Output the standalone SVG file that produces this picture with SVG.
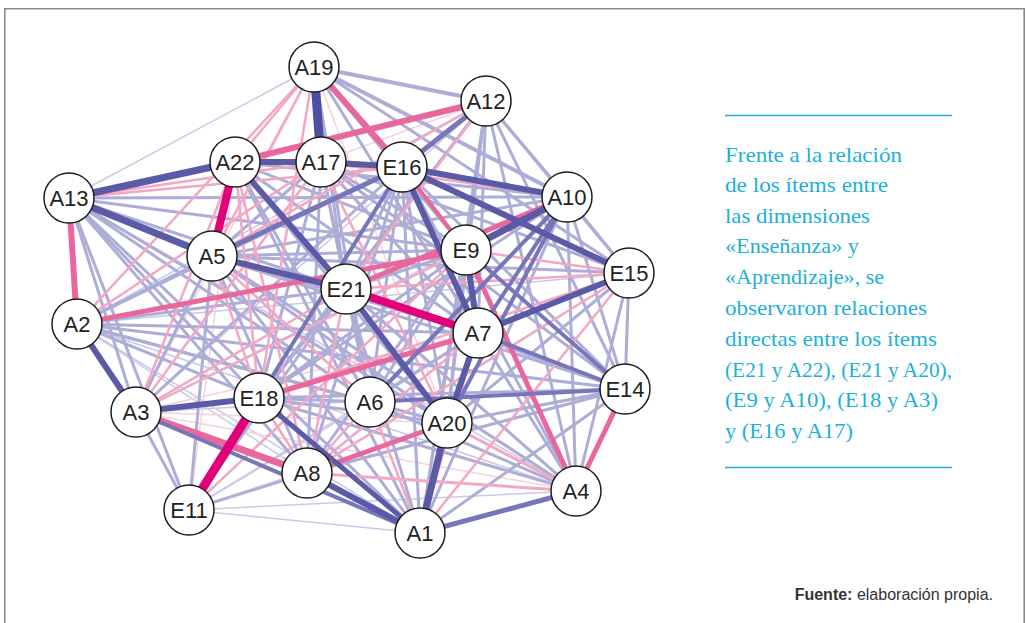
<svg xmlns="http://www.w3.org/2000/svg" width="1026" height="623" viewBox="0 0 1026 623">
<style>
.frame{stroke:#8a8a8a;stroke-width:1.6;fill:none}
line{stroke-linecap:butt}
.c1{stroke:#5a5aa7}
.c2{stroke:#7776ba;stroke-width:4}
.c3{stroke:#aeadd7;stroke-width:3}
.c4{stroke:#c9c9e7;stroke-width:1.5}
.p0{stroke:#e2007a;stroke-width:8}
.p1{stroke:#e8679d;stroke-width:5}
.p2{stroke:#f2a8c3;stroke-width:2.5}
.p3{stroke:#f7d0de;stroke-width:1.5}
.node circle{fill:#fff;stroke:#1e1e1e;stroke-width:1.5}
.node text{font-family:"Liberation Sans",Arial,sans-serif;font-size:22px;fill:#222;text-anchor:middle}
.note{font-family:"Liberation Serif","Times New Roman",serif;font-size:21px;fill:#1cb0d8}
.rule{stroke:#1cb0d8;stroke-width:1.5}
.src{font-family:"Liberation Sans",Arial,sans-serif;font-size:16px;fill:#333}
</style>
<rect width="1026" height="623" fill="#fff"/>
<path class="frame" d="M4.8,623 V8.8 H1024.2 V623"/>
<g id="connectors">
<g class="c4">
<line x1="69" y1="198" x2="314" y2="67"/>
<line x1="189" y1="510" x2="420" y2="533"/>
<line x1="69" y1="198" x2="346" y2="289"/>
<line x1="136" y1="412" x2="567" y2="197"/>
<line x1="136" y1="412" x2="486" y2="101"/>
<line x1="77" y1="324" x2="486" y2="101"/>
<line x1="77" y1="324" x2="629" y2="273"/>
<line x1="77" y1="324" x2="307" y2="473"/>
<line x1="77" y1="324" x2="576" y2="491"/>
<line x1="420" y1="533" x2="77" y2="324"/>
<line x1="189" y1="510" x2="478" y2="333"/>
<line x1="189" y1="510" x2="370" y2="402"/>
<line x1="189" y1="510" x2="402" y2="167"/>
<line x1="625" y1="389" x2="136" y2="412"/>
<line x1="576" y1="491" x2="189" y2="510"/>
<line x1="576" y1="491" x2="69" y2="198"/>
</g>
<g class="p3">
<line x1="314" y1="67" x2="136" y2="412"/>
<line x1="314" y1="67" x2="447" y2="423"/>
<line x1="69" y1="198" x2="486" y2="101"/>
<line x1="235" y1="162" x2="189" y2="510"/>
<line x1="189" y1="510" x2="447" y2="423"/>
<line x1="136" y1="412" x2="447" y2="423"/>
<line x1="136" y1="412" x2="478" y2="333"/>
<line x1="576" y1="491" x2="136" y2="412"/>
<line x1="321" y1="162" x2="486" y2="101"/>
</g>
<g class="c3">
<line x1="314" y1="67" x2="486" y2="101" stroke-width="4"/>
<line x1="314" y1="67" x2="567" y2="197" stroke-width="4"/>
<line x1="486" y1="101" x2="567" y2="197"/>
<line x1="486" y1="101" x2="629" y2="273"/>
<line x1="486" y1="101" x2="466" y2="250"/>
<line x1="486" y1="101" x2="478" y2="333"/>
<line x1="486" y1="101" x2="447" y2="423"/>
<line x1="486" y1="101" x2="576" y2="491"/>
<line x1="486" y1="101" x2="625" y2="389"/>
<line x1="486" y1="101" x2="420" y2="533" stroke-width="2"/>
<line x1="567" y1="197" x2="629" y2="273"/>
<line x1="567" y1="197" x2="625" y2="389"/>
<line x1="567" y1="197" x2="576" y2="491"/>
<line x1="567" y1="197" x2="420" y2="533"/>
<line x1="69" y1="198" x2="567" y2="197"/>
<line x1="69" y1="198" x2="466" y2="250"/>
<line x1="69" y1="198" x2="478" y2="333"/>
<line x1="69" y1="198" x2="370" y2="402"/>
<line x1="69" y1="198" x2="447" y2="423"/>
<line x1="69" y1="198" x2="259" y2="398"/>
<line x1="69" y1="198" x2="307" y2="473"/>
<line x1="69" y1="198" x2="189" y2="510"/>
<line x1="69" y1="198" x2="136" y2="412"/>
<line x1="69" y1="198" x2="420" y2="533"/>
<line x1="629" y1="273" x2="625" y2="389"/>
<line x1="629" y1="273" x2="576" y2="491"/>
<line x1="629" y1="273" x2="447" y2="423"/>
<line x1="625" y1="389" x2="447" y2="423"/>
<line x1="625" y1="389" x2="420" y2="533"/>
<line x1="625" y1="389" x2="307" y2="473"/>
<line x1="625" y1="389" x2="259" y2="398"/>
<line x1="576" y1="491" x2="402" y2="167"/>
<line x1="576" y1="491" x2="212" y2="256"/>
<line x1="576" y1="491" x2="259" y2="398"/>
<line x1="576" y1="491" x2="370" y2="402"/>
<line x1="576" y1="491" x2="346" y2="289"/>
<line x1="576" y1="491" x2="478" y2="333"/>
<line x1="420" y1="533" x2="346" y2="289"/>
<line x1="420" y1="533" x2="212" y2="256"/>
<line x1="235" y1="162" x2="420" y2="533"/>
<line x1="447" y1="423" x2="77" y2="324"/>
<line x1="447" y1="423" x2="212" y2="256"/>
<line x1="447" y1="423" x2="259" y2="398"/>
<line x1="307" y1="473" x2="466" y2="250"/>
<line x1="307" y1="473" x2="212" y2="256"/>
<line x1="307" y1="473" x2="189" y2="510"/>
<line x1="307" y1="473" x2="402" y2="167"/>
<line x1="259" y1="398" x2="77" y2="324"/>
<line x1="259" y1="398" x2="466" y2="250"/>
<line x1="259" y1="398" x2="486" y2="101"/>
<line x1="259" y1="398" x2="567" y2="197"/>
<line x1="259" y1="398" x2="370" y2="402"/>
<line x1="189" y1="510" x2="136" y2="412"/>
<line x1="189" y1="510" x2="212" y2="256"/>
<line x1="189" y1="510" x2="346" y2="289"/>
<line x1="136" y1="412" x2="212" y2="256"/>
<line x1="136" y1="412" x2="402" y2="167"/>
<line x1="77" y1="324" x2="212" y2="256"/>
<line x1="77" y1="324" x2="402" y2="167"/>
<line x1="77" y1="324" x2="478" y2="333"/>
<line x1="77" y1="324" x2="346" y2="289"/>
<line x1="77" y1="324" x2="370" y2="402"/>
<line x1="77" y1="324" x2="625" y2="389"/>
<line x1="212" y1="256" x2="567" y2="197"/>
<line x1="212" y1="256" x2="466" y2="250"/>
<line x1="212" y1="256" x2="478" y2="333"/>
<line x1="212" y1="256" x2="625" y2="389"/>
<line x1="212" y1="256" x2="321" y2="162"/>
<line x1="212" y1="256" x2="629" y2="273"/>
<line x1="235" y1="162" x2="567" y2="197"/>
<line x1="235" y1="162" x2="466" y2="250"/>
<line x1="235" y1="162" x2="478" y2="333"/>
<line x1="235" y1="162" x2="370" y2="402"/>
<line x1="235" y1="162" x2="447" y2="423"/>
<line x1="321" y1="162" x2="346" y2="289"/>
<line x1="321" y1="162" x2="466" y2="250"/>
<line x1="321" y1="162" x2="478" y2="333"/>
<line x1="321" y1="162" x2="629" y2="273"/>
<line x1="321" y1="162" x2="370" y2="402"/>
<line x1="321" y1="162" x2="307" y2="473"/>
<line x1="321" y1="162" x2="259" y2="398"/>
<line x1="321" y1="162" x2="625" y2="389"/>
<line x1="314" y1="67" x2="346" y2="289"/>
<line x1="314" y1="67" x2="466" y2="250"/>
<line x1="314" y1="67" x2="478" y2="333"/>
<line x1="314" y1="67" x2="370" y2="402"/>
<line x1="314" y1="67" x2="629" y2="273"/>
<line x1="402" y1="167" x2="625" y2="389"/>
<line x1="402" y1="167" x2="447" y2="423"/>
<line x1="402" y1="167" x2="370" y2="402"/>
<line x1="402" y1="167" x2="346" y2="289"/>
<line x1="402" y1="167" x2="420" y2="533"/>
<line x1="466" y1="250" x2="370" y2="402"/>
<line x1="466" y1="250" x2="447" y2="423"/>
<line x1="466" y1="250" x2="346" y2="289"/>
<line x1="466" y1="250" x2="420" y2="533"/>
<line x1="346" y1="289" x2="625" y2="389"/>
<line x1="346" y1="289" x2="370" y2="402"/>
<line x1="346" y1="289" x2="259" y2="398"/>
<line x1="478" y1="333" x2="370" y2="402"/>
</g>
<g class="p2">
<line x1="77" y1="324" x2="321" y2="162"/>
<line x1="77" y1="324" x2="314" y2="67"/>
<line x1="235" y1="162" x2="314" y2="67"/>
<line x1="235" y1="162" x2="402" y2="167"/>
<line x1="235" y1="162" x2="307" y2="473"/>
<line x1="235" y1="162" x2="259" y2="398"/>
<line x1="235" y1="162" x2="136" y2="412"/>
<line x1="314" y1="67" x2="212" y2="256"/>
<line x1="314" y1="67" x2="259" y2="398"/>
<line x1="69" y1="198" x2="402" y2="167"/>
<line x1="69" y1="198" x2="321" y2="162"/>
<line x1="212" y1="256" x2="486" y2="101"/>
<line x1="212" y1="256" x2="370" y2="402"/>
<line x1="212" y1="256" x2="259" y2="398"/>
<line x1="321" y1="162" x2="567" y2="197"/>
<line x1="321" y1="162" x2="447" y2="423"/>
<line x1="321" y1="162" x2="136" y2="412"/>
<line x1="307" y1="473" x2="259" y2="398"/>
<line x1="307" y1="473" x2="478" y2="333"/>
<line x1="307" y1="473" x2="346" y2="289"/>
<line x1="307" y1="473" x2="576" y2="491" stroke-width="3"/>
<line x1="447" y1="423" x2="576" y2="491" stroke-width="3"/>
<line x1="370" y1="402" x2="420" y2="533"/>
<line x1="370" y1="402" x2="307" y2="473"/>
<line x1="420" y1="533" x2="478" y2="333"/>
<line x1="420" y1="533" x2="629" y2="273"/>
<line x1="629" y1="273" x2="259" y2="398"/>
<line x1="629" y1="273" x2="307" y2="473"/>
<line x1="466" y1="250" x2="629" y2="273"/>
<line x1="346" y1="289" x2="629" y2="273"/>
<line x1="346" y1="289" x2="136" y2="412"/>
<line x1="346" y1="289" x2="486" y2="101"/>
<line x1="189" y1="510" x2="466" y2="250"/>
<line x1="136" y1="412" x2="466" y2="250"/>
</g>
<g class="p1">
<line x1="314" y1="67" x2="402" y2="167" stroke-width="6"/>
<line x1="235" y1="162" x2="486" y2="101" stroke-width="6"/>
<line x1="69" y1="198" x2="77" y2="324" stroke-width="6"/>
<line x1="77" y1="324" x2="466" y2="250"/>
<line x1="346" y1="289" x2="567" y2="197"/>
<line x1="136" y1="412" x2="307" y2="473" stroke-width="7"/>
<line x1="307" y1="473" x2="447" y2="423"/>
<line x1="466" y1="250" x2="576" y2="491"/>
<line x1="625" y1="389" x2="576" y2="491"/>
<line x1="259" y1="398" x2="478" y2="333"/>
<line x1="402" y1="167" x2="466" y2="250" stroke-width="4"/>
</g>
<g class="c2">
<line x1="486" y1="101" x2="402" y2="167" stroke-width="5"/>
<line x1="212" y1="256" x2="402" y2="167" stroke-width="5"/>
<line x1="420" y1="533" x2="576" y2="491" stroke-width="5"/>
<line x1="370" y1="402" x2="567" y2="197"/>
<line x1="136" y1="412" x2="420" y2="533"/>
<line x1="466" y1="250" x2="625" y2="389"/>
<line x1="478" y1="333" x2="625" y2="389"/>
<line x1="370" y1="402" x2="625" y2="389"/>
<line x1="567" y1="197" x2="447" y2="423"/>
<line x1="259" y1="398" x2="402" y2="167"/>
<line x1="567" y1="197" x2="478" y2="333"/>
</g>
<g class="c1">
<line x1="314" y1="67" x2="321" y2="162" stroke-width="9" stroke="#4d50a2"/>
<line x1="235" y1="162" x2="69" y2="198" stroke-width="7"/>
<line x1="69" y1="198" x2="212" y2="256" stroke-width="7"/>
<line x1="235" y1="162" x2="346" y2="289" stroke-width="6"/>
<line x1="212" y1="256" x2="346" y2="289" stroke-width="6"/>
<line x1="235" y1="162" x2="321" y2="162" stroke-width="6"/>
<line x1="321" y1="162" x2="402" y2="167" stroke-width="6"/>
<line x1="402" y1="167" x2="567" y2="197" stroke-width="6"/>
<line x1="402" y1="167" x2="629" y2="273" stroke-width="6"/>
<line x1="402" y1="167" x2="478" y2="333" stroke-width="6"/>
<line x1="466" y1="250" x2="478" y2="333" stroke-width="6"/>
<line x1="567" y1="197" x2="466" y2="250" stroke-width="7"/>
<line x1="629" y1="273" x2="478" y2="333" stroke-width="6"/>
<line x1="478" y1="333" x2="447" y2="423" stroke-width="6"/>
<line x1="447" y1="423" x2="420" y2="533" stroke-width="7"/>
<line x1="346" y1="289" x2="447" y2="423" stroke-width="6"/>
<line x1="77" y1="324" x2="136" y2="412" stroke-width="6"/>
<line x1="136" y1="412" x2="259" y2="398" stroke-width="6"/>
<line x1="259" y1="398" x2="420" y2="533" stroke-width="5"/>
<line x1="307" y1="473" x2="420" y2="533" stroke-width="6"/>
</g>
<g class="p0">
<line x1="235" y1="162" x2="212" y2="256"/>
<line x1="346" y1="289" x2="478" y2="333"/>
<line x1="259" y1="398" x2="189" y2="510" stroke-width="9"/>
</g>
</g>
<g id="A19" class="node"><circle cx="314" cy="67" r="25"/><text x="314" y="75">A19</text></g>
<g id="A12" class="node"><circle cx="486" cy="101" r="25"/><text x="486" y="109">A12</text></g>
<g id="A22" class="node"><circle cx="235" cy="162" r="25"/><text x="235" y="170">A22</text></g>
<g id="A17" class="node"><circle cx="321" cy="162" r="25"/><text x="321" y="170">A17</text></g>
<g id="E16" class="node"><circle cx="402" cy="167" r="25"/><text x="402" y="175">E16</text></g>
<g id="A13" class="node"><circle cx="69" cy="198" r="25"/><text x="69" y="206">A13</text></g>
<g id="A10" class="node"><circle cx="567" cy="197" r="25"/><text x="567" y="205">A10</text></g>
<g id="E9" class="node"><circle cx="466" cy="250" r="25"/><text x="466" y="258">E9</text></g>
<g id="A5" class="node"><circle cx="212" cy="256" r="25"/><text x="212" y="264">A5</text></g>
<g id="E15" class="node"><circle cx="629" cy="273" r="25"/><text x="629" y="281">E15</text></g>
<g id="E21" class="node"><circle cx="346" cy="289" r="25"/><text x="346" y="297">E21</text></g>
<g id="A2" class="node"><circle cx="77" cy="324" r="25"/><text x="77" y="332">A2</text></g>
<g id="A7" class="node"><circle cx="478" cy="333" r="25"/><text x="478" y="341">A7</text></g>
<g id="E14" class="node"><circle cx="625" cy="389" r="25"/><text x="625" y="397">E14</text></g>
<g id="E18" class="node"><circle cx="259" cy="398" r="25"/><text x="259" y="406">E18</text></g>
<g id="A6" class="node"><circle cx="370" cy="402" r="25"/><text x="370" y="410">A6</text></g>
<g id="A3" class="node"><circle cx="136" cy="412" r="25"/><text x="136" y="420">A3</text></g>
<g id="A20" class="node"><circle cx="447" cy="423" r="25"/><text x="447" y="431">A20</text></g>
<g id="A8" class="node"><circle cx="307" cy="473" r="25"/><text x="307" y="481">A8</text></g>
<g id="A4" class="node"><circle cx="576" cy="491" r="25"/><text x="576" y="499">A4</text></g>
<g id="E11" class="node"><circle cx="189" cy="510" r="25"/><text x="189" y="518">E11</text></g>
<g id="A1" class="node"><circle cx="420" cy="533" r="25"/><text x="420" y="541">A1</text></g>
<g id="note">
<line class="rule" x1="725" y1="115.5" x2="952" y2="115.5"/>
<text class="note" x="725" y="162" textLength="177" lengthAdjust="spacingAndGlyphs">Frente a la relación</text>
<text class="note" x="725" y="192" textLength="163" lengthAdjust="spacingAndGlyphs">de los ítems entre</text>
<text class="note" x="725" y="223" textLength="145" lengthAdjust="spacingAndGlyphs">las dimensiones</text>
<text class="note" x="725" y="253" textLength="134" lengthAdjust="spacingAndGlyphs">«Enseñanza» y</text>
<text class="note" x="725" y="284" textLength="159" lengthAdjust="spacingAndGlyphs">«Aprendizaje», se</text>
<text class="note" x="725" y="315" textLength="202" lengthAdjust="spacingAndGlyphs">observaron relaciones</text>
<text class="note" x="725" y="346" textLength="212" lengthAdjust="spacingAndGlyphs">directas entre los ítems</text>
<text class="note" x="725" y="377" textLength="227" lengthAdjust="spacingAndGlyphs">(E21 y A22), (E21 y A20),</text>
<text class="note" x="725" y="407" textLength="213" lengthAdjust="spacingAndGlyphs">(E9 y A10), (E18 y A3)</text>
<text class="note" x="725" y="438" textLength="128" lengthAdjust="spacingAndGlyphs">y (E16 y A17)</text>
<line class="rule" x1="725" y1="467.5" x2="952" y2="467.5"/>
</g>
<text class="src" x="993" y="600" text-anchor="end"><tspan font-weight="bold">Fuente:</tspan> elaboración propia.</text>
</svg>
